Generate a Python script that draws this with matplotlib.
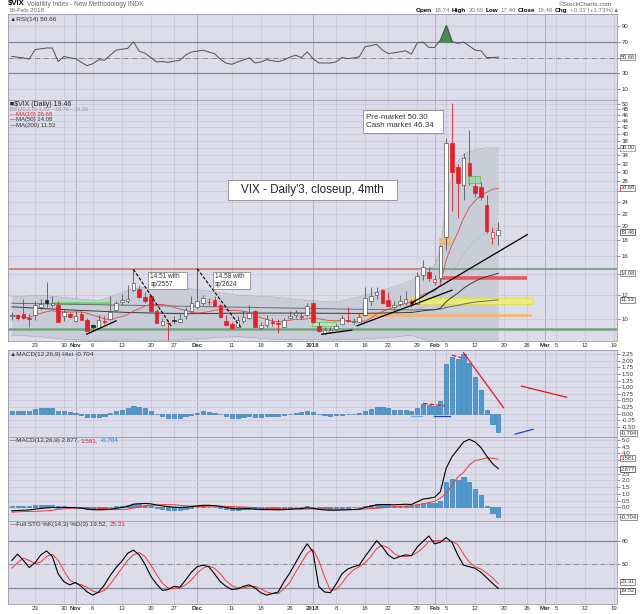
import numpy as np
import pandas as pd
import matplotlib
matplotlib.use('Agg')
import matplotlib.pyplot as plt
from matplotlib.patches import Rectangle
from matplotlib.ticker import NullLocator
from matplotlib.offsetbox import TextArea, HPacker, AnchoredOffsetbox

plt.rcParams['font.family'] = ['Liberation Sans', 'DejaVu Sans']

# ---- $VIX daily, 17-Oct-2017 .. 16-Feb-2018 ----
opens = [10.20, 10.30, 10.40, 10.10, 10.30, 10.90, 11.50, 11.10, 11.10, 10.20, 10.35,
         9.85, 10.40, 9.95, 9.55, 9.35, 9.82, 10.00, 10.70, 11.35, 11.40, 12.40,
         12.50, 11.75, 11.90, 10.60, 9.55, 9.70, 9.95, 9.80, 10.20, 10.60,
         10.90, 11.30, 11.35, 11.50, 11.10, 9.86, 9.60, 9.40, 9.85, 10.10, 10.60,
         9.35, 9.55, 9.78, 9.70, 9.45, 10.10, 10.30, 10.20, 10.30,
         11.30, 9.50, 8.95, 9.10, 9.30, 9.60, 9.95, 9.75, 9.80, 10.30, 11.40,
         11.95, 12.40, 11.50, 10.95, 11.20, 11.30, 11.40, 11.20, 13.90, 14.20,
         13.20, 13.60, 18.44, 37.32, 31.10, 27.30, 32.10, 27.10, 26.80, 23.40, 18.40, 18.74]
highs = [10.55, 10.40, 11.60, 10.40, 11.40, 11.60, 13.20, 11.85, 11.40, 10.80, 10.55,
         10.60, 10.60, 10.05, 9.65, 10.30, 10.20, 11.85, 11.40, 12.10, 12.90, 14.51,
         12.90, 12.20, 12.00, 10.80, 10.10, 9.90, 10.20, 10.40, 10.90, 11.90,
         14.58, 12.00, 11.70, 11.90, 11.20, 10.30, 9.75, 10.20, 10.60, 11.10, 10.70,
         9.80, 10.30, 10.10, 10.00, 10.10, 10.60, 10.70, 10.50, 11.30,
         11.40, 9.80, 9.40, 9.40, 9.60, 10.30, 10.90, 10.10, 10.40, 12.70, 12.70,
         12.70, 12.50, 12.20, 11.40, 12.00, 12.30, 11.60, 14.20, 15.52, 14.80,
         13.90, 17.40, 38.80, 50.30, 31.80, 34.60, 41.06, 29.20, 27.90, 25.30, 19.90, 20.60]
lows = [9.95, 9.95, 9.98, 9.40, 9.95, 10.70, 10.90, 10.95, 9.80, 9.85, 10.05,
        9.80, 9.90, 9.14, 9.20, 9.30, 9.60, 9.90, 10.55, 11.10, 11.30, 12.20,
        11.70, 11.30, 10.60, 9.70, 9.50, 8.56, 9.60, 9.70, 10.00, 10.55,
        10.80, 11.10, 11.10, 11.00, 10.10, 9.50, 9.30, 9.35, 9.70, 10.00, 9.40,
        9.30, 9.45, 9.50, 9.00, 9.40, 10.00, 10.10, 10.00, 10.25,
        9.70, 9.10, 8.92, 9.00, 9.20, 9.55, 9.75, 9.65, 9.75, 10.25, 11.10,
        11.60, 11.20, 11.00, 10.70, 11.00, 11.10, 10.90, 11.15, 13.40, 13.30,
        12.90, 13.20, 16.80, 22.42, 21.25, 24.40, 27.30, 25.00, 24.40, 19.00, 17.50, 17.46]
closes = [10.31, 10.07, 10.05, 9.97, 11.07, 11.16, 11.23, 11.30, 9.80, 10.50, 10.18,
          10.20, 9.93, 9.14, 9.40, 9.89, 9.78, 10.50, 11.29, 11.50, 11.59, 13.13,
          11.76, 11.43, 10.65, 9.73, 9.88, 9.67, 9.87, 10.03, 10.70, 11.28,
          11.43, 11.68, 11.33, 11.02, 10.16, 9.58, 9.34, 9.92, 10.18, 10.49, 9.42,
          9.53, 10.03, 9.72, 9.62, 9.90, 10.25, 10.47, 10.18, 11.04,
          9.77, 9.15, 9.22, 9.22, 9.52, 10.08, 9.82, 9.88, 10.16, 11.66, 11.91,
          12.22, 11.27, 11.03, 11.10, 11.47, 11.58, 11.08, 13.84, 14.79, 13.54,
          13.47, 17.31, 37.32, 29.98, 27.73, 33.46, 29.06, 25.61, 24.97, 19.26, 19.13, 19.46]

# Bollinger band edges, sampled off the chart
bb_at = [0, 5, 9, 15, 21, 25, 30, 35, 39, 45, 51, 56, 60, 65, 69, 72, 73, 74, 75, 76,
         77, 78, 79, 80, 81, 82, 83, 84]
bb_up = [11.80, 11.95, 11.75, 11.45, 12.55, 12.75, 12.60, 12.25, 11.95, 11.80, 11.50,
         11.35, 11.80, 12.55, 13.30, 14.60, 14.90, 16.80, 24.40, 29.40, 32.50, 34.20,
         35.00, 35.40, 35.80, 36.00, 36.00, 36.00]
bb_lo = [8.87, 8.76, 8.60, 8.50, 8.55, 8.50, 8.55, 8.70, 8.76, 8.60, 8.55, 8.55, 8.60,
         8.70, 8.85, 8.50, 8.20, 7.00, 4.0, 3.0, 3.0, 3.0, 3.0, 3.0, 3.0, 3.0, 3.0, 3.52]

ma50_at = [0, 10, 20, 30, 40, 50, 60, 69, 70, 71, 72, 73, 74, 75, 76, 77, 78, 79, 80, 81, 82, 83, 84]
ma50 = [10.95, 10.70, 10.50, 10.40, 10.45, 10.45, 10.42, 10.50, 10.56, 10.63, 10.68, 10.70,
        10.84, 11.38, 11.77, 12.12, 12.58, 12.95, 13.26, 13.55, 13.73, 13.90, 14.08]
ma200_at = [0, 12, 24, 36, 48, 60, 69, 70, 72, 74, 75, 76, 77, 78, 79, 80, 81, 82, 83, 84]
ma200 = [11.25, 11.15, 11.05, 10.95, 10.85, 10.75, 10.70, 10.71, 10.73, 10.76, 10.90, 10.99,
         11.07, 11.18, 11.27, 11.34, 11.40, 11.44, 11.49, 11.53]

rsi = [51.5, 50.5, 49.5, 48, 60, 61, 62, 62, 45, 51.5, 49.6, 48.8, 44, 39.8, 42.3, 47.4, 46.6,
       53, 59.4, 60.5, 61.5, 69.8, 58, 55.5, 50, 44.5, 45, 44, 45.5, 46.6, 53, 57, 58, 59.4,
       57, 55, 48, 43, 41.5, 44.5, 47, 49.6, 43.2, 44.5, 47.4, 46, 44.9, 47, 50.5, 53, 50,
       57.2, 48.7, 43.2, 43.2, 43.2, 44.5, 50, 48.7, 49.5, 50.9, 63.6, 65, 66.6, 59.4, 55, 56,
       57.2, 58.5, 54.3, 68.5, 69.5, 62.8, 62.8, 72, 90.4, 70, 67.9, 69.5, 64.5, 59.4, 58.5,
       50, 50, 50.66]

macd_hist = [0.10, 0.10, 0.10, 0.11, 0.16, 0.20, 0.21, 0.21, 0.11, 0.10, 0.06, 0.01, -0.04,
             -0.11, -0.13, -0.11, -0.08, 0.02, 0.10, 0.14, 0.20, 0.29, 0.24, 0.21, 0.10, -0.01,
             -0.09, -0.15, -0.18, -0.16, -0.10, -0.04, 0.04, 0.09, 0.06, 0.01, -0.01, -0.08,
             -0.15, -0.15, -0.14, -0.09, -0.11, -0.13, -0.10, -0.09, -0.08, -0.05, -0.01, 0.01,
             0.05, 0.09, 0.05, -0.03, -0.06, -0.08, -0.06, -0.04, -0.03, 0.0, 0.01, 0.11, 0.19,
             0.26, 0.24, 0.21, 0.14, 0.14, 0.14, 0.10, 0.21, 0.36, 0.31, 0.30, 0.48, 1.87, 2.14,
             2.06, 2.25, 1.90, 1.37, 0.89, 0.13, -0.40, -0.704]
macd_line = [-0.25, -0.22, -0.20, -0.18, -0.12, -0.07, -0.03, 0.0, -0.02, 0.0, 0.0, -0.02,
             -0.05, -0.12, -0.16, -0.17, -0.16, -0.12, -0.06, 0.0, 0.08, 0.25, 0.28, 0.30, 0.27,
             0.18, 0.12, 0.06, 0.02, 0.0, 0.02, 0.07, 0.12, 0.16, 0.16, 0.13, 0.08, 0.0, -0.08,
             -0.10, -0.10, -0.08, -0.12, -0.15, -0.15, -0.16, -0.17, -0.16, -0.13, -0.10, -0.08,
             -0.02, -0.06, -0.14, -0.18, -0.20, -0.20, -0.18, -0.17, -0.15, -0.12, 0.0, 0.10,
             0.20, 0.22, 0.22, 0.20, 0.22, 0.24, 0.22, 0.42, 0.62, 0.68, 0.76, 1.17, 2.90, 3.76,
             4.30, 4.85, 5.05, 4.85, 4.45, 3.80, 3.25, 2.877]

sto_k = [55, 63, 55, 46, 52, 62, 67, 60, 38, 28, 24, 27, 22, 15, 11, 15, 24, 36, 46, 54, 64,
         68, 62, 50, 35, 25, 17, 18, 22, 21, 30, 40, 47, 49, 47, 38, 28, 22, 18, 19, 22, 24,
         20, 14, 11, 13, 15, 28, 39, 52, 65, 76, 66, 22, 15, 14, 25, 38, 44, 47, 49, 60, 70,
         80, 72, 62, 57, 60, 62, 61, 72, 79, 86, 76, 78, 84, 78, 62, 49, 47, 45, 40, 33, 26, 19.52]
sto_d = [45, 52, 58, 55, 51, 53, 60, 63, 55, 42, 30, 26, 24, 21, 16, 14, 17, 25, 35, 45, 55,
         62, 65, 60, 49, 37, 26, 20, 19, 20, 24, 30, 39, 45, 48, 45, 38, 29, 23, 20, 20, 22,
         22, 19, 15, 13, 13, 19, 27, 40, 52, 64, 69, 55, 34, 17, 18, 26, 36, 43, 47, 52, 60,
         70, 74, 71, 64, 60, 60, 61, 65, 71, 79, 80, 80, 79, 79, 75, 63, 53, 47, 44, 39, 33, 25.31]

holidays = ['2017-11-23', '2017-12-25', '2018-01-01', '2018-01-15', '2018-02-19']

# drawn levels / zones / trendlines on the price panel (index, price)
support_lines = [(14.54, '#76a080', 1.3), (9.28, '#76a080', 1.8)]
trend_solid = [((12.9, 8.92), (18.0, 9.86)), ((53.5, 8.92), (58.7, 9.20)),
               ((59.6, 9.50), (76.0, 12.40)), ((69.0, 11.25), (89.0, 18.8))]
trend_dashed = [((21.0, 14.51), (27.6, 9.44)), ((32.0, 14.58), (39.6, 9.37))]
hist_marks = [((78.0, 2.30), (84.9, 0.226), '#e8141c', '-'),
              ((88.0, 1.04), (95.8, 0.62), '#e8141c', '-'),
              ((76.0, 2.21), (77.7, 2.11), '#e8141c', '--'),
              ((71.0, 0.39), (74.8, 0.29), '#e8141c', '--'),
              ((86.9, -0.77), (90.0, -0.59), '#1e3cd8', '-'),
              ((72.9, -0.10), (75.7, -0.10), '#1e3cd8', '-'),
              ((68.9, -0.075), (70.8, -0.075), '#7aa6e6', '-')]

W, H = 640, 614
BG = '#dcdcea'
GRID = '#c6c6d8'
GRID_M = '#a9a9bd'
RED = '#e0202a'
BLUE = '#4a9bd2'
TXT = '#333333'

n = len(closes)
idx = np.arange(n)
days = pd.bdate_range('2017-10-17', '2018-03-20')
days = days[~days.isin(pd.to_datetime(holidays))]

# weekly / monthly ticks like StockCharts
tick_pos, tick_lab, month_pos = [], [], []
last_month = -10
for i in range(1, len(days)):
    d, p = days[i], days[i - 1]
    if d.month != p.month:
        tick_pos.append(i)
        tick_lab.append('2018' if d.month == 1 else d.strftime('%b'))
        month_pos.append(i)
        last_month = i
    elif d.weekday() < p.weekday() and i - last_month > 1:
        tick_pos.append(i)
        tick_lab.append(str(d.day))

fig = plt.figure(figsize=(W / 100, H / 100), dpi=100)
fig.patch.set_facecolor('white')


def panel(top, bottom):
    ax = fig.add_axes([8 / W, 1 - bottom / H, 609 / W, (bottom - top) / H])
    ax.set_facecolor(BG)
    for s in ax.spines.values():
        s.set_color('#9a9aac')
        s.set_linewidth(0.6)
    ax.yaxis.tick_right()
    ax.tick_params(axis='y', length=2, width=0.4, pad=1.5, labelsize=4.4, colors=TXT)
    ax.tick_params(axis='x', length=0, labelsize=4.4, colors=TXT, pad=1.2)
    ax.set_xlim(-0.66, 104.5)
    for t in tick_pos:
        ax.axvline(t, color=GRID_M if t in month_pos else GRID,
                   lw=0.6 if t in month_pos else 0.5, zorder=0)
    ax.set_xticks(tick_pos)
    ax.set_xticklabels(tick_lab)
    for lab in ax.get_xticklabels():
        if lab.get_text() in ('Nov', 'Dec', '2018', 'Feb', 'Mar'):
            lab.set_fontweight('bold')
    ax.tick_params(labelbottom=False)
    return ax


def yticks(ax, vals, fmt, hidden=()):
    ax.set_yticks(vals)
    ax.set_yticklabels(['' if v in hidden else fmt % v for v in vals])


def hgrid(ax, vals):
    for v in vals:
        ax.axhline(v, color=GRID, lw=0.5, zorder=0)


def tag(ax, val, text, ec, dy=0):
    ax.annotate(text, xy=(1.0, val), xycoords=ax.get_yaxis_transform(),
                xytext=(2.5, dy), textcoords='offset points', fontsize=4.1,
                va='center', ha='left', color=TXT, annotation_clip=False, zorder=20,
                bbox=dict(boxstyle='square,pad=0.1', fc='white', ec=ec, lw=0.5))


def ftext(x, y, s, **kw):
    return fig.text(x / W, 1 - y / H, s, **kw)


def rich(x, y, parts, loc='upper left'):
    kids = [TextArea(s, textprops=dict(color=c, fontsize=fs, fontweight=w))
            for s, c, fs, w in parts]
    pack = HPacker(children=kids, align='baseline', pad=0, sep=1.5)
    ab = AnchoredOffsetbox(loc=loc, child=pack, pad=0, borderpad=0, frameon=False,
                           bbox_to_anchor=(x / W, 1 - y / H), bbox_transform=fig.transFigure)
    fig.add_artist(ab)


def note_box(x0, y0, x1, y1, text, size, center=False):
    fig.add_artist(Rectangle((x0 / W, 1 - y1 / H), (x1 - x0) / W, (y1 - y0) / H,
                             transform=fig.transFigure, fc='white', ec='#8a8a8a',
                             lw=0.6, zorder=30))
    if center:
        ftext((x0 + x1) / 2, (y0 + y1) / 2 + 0.5, text, fontsize=size, ha='center',
              va='center', color='#222222', zorder=31)
    else:
        ftext(x0 + 2.5, (y0 + y1) / 2, text, fontsize=size, ha='left', va='center',
              color='#333333', linespacing=1.15, zorder=31)


# ---------------- RSI ----------------
ar = panel(14, 100)
ar.set_ylim(-3.4, 104.8)
yticks(ar, [10, 30, 50, 70, 90], '%d', hidden=(50,))
hgrid(ar, [10, 90])
ar.axhline(70, color='#85859a', lw=0.9, zorder=1)
ar.axhline(30, color='#85859a', lw=0.9, zorder=1)
ar.axhline(50, color='#7a7a8a', lw=0.6, ls='-.', zorder=1)
rsi_a = np.array(rsi)
ar.fill_between(idx, rsi_a, 70, where=rsi_a > 70, interpolate=True, color='#4b8b57', zorder=2)
ar.plot(idx, rsi_a, color='#505050', lw=0.7, zorder=3)
tag(ar, 50.66, '50.66', '#666666')
ftext(10, 19, '\u25B2RSI(14) 50.66', fontsize=4.6, color=TXT, va='center')

# ---------------- Price ----------------
ax = panel(100, 341)
ax.set_yscale('log')
ax.set_ylim(8.48, 51.5)
yt = list(range(10, 52, 2))
yticks(ax, yt, '%d', hidden=(14, 26, 36))
ax.yaxis.set_minor_locator(NullLocator())
hgrid(ax, yt)
ax.tick_params(labelbottom=True)

cs = pd.Series(closes)
ax.fill_between(bb_at, bb_lo, bb_up, color='#c7cdd7', alpha=0.95, lw=0, zorder=1)
ax.plot(bb_at, bb_up, color='#a4aab6', lw=0.4, zorder=2)
ax.plot(bb_at, bb_lo, color='#a4aab6', lw=0.4, zorder=2)
ax.plot(idx, cs.rolling(20, min_periods=1).mean(), color='#b4b8c4', lw=0.4, zorder=2)

for lvl, col, lw in support_lines:
    ax.axhline(lvl, color=col, lw=lw, zorder=2)
ax.hlines(14.54, -0.66, 71.2, color='#ee7c82', lw=1.1, zorder=2)
ax.hlines(11.25, 7.06, 16.8, color='#55e055', lw=1.8, zorder=3)
ax.hlines(13.62, 74.2, 88.9, color='#f0555e', lw=2.6, zorder=3)
ax.fill_between([68.8, 89.8], 11.16, 11.67, color='#f3ef6c', alpha=0.85, lw=0.6,
                edgecolor='#e2dc3a', zorder=2)
ax.fill_between([59.8, 89.8], 10.17, 10.36, color='#f2b46c', alpha=0.85, lw=0, zorder=2)
ax.fill_between([51.9, 55.9], 9.51, 9.80, color='#b8eea8', alpha=0.7, lw=0.8,
                edgecolor='#55cc55', zorder=3)
ax.fill_between([73.8, 75.85], 17.3, 18.4, color='#f2b46c', alpha=0.75, lw=0, zorder=3)
ax.fill_between([78.8, 80.9], 27.7, 29.2, color='#9ad89a', alpha=0.7, lw=0.6,
                edgecolor='#4caf50', zorder=6)

ax.plot(ma200_at, ma200, color='#6c6c6c', lw=0.7, zorder=3)
ax.plot(ma50_at, ma50, color='#3a3a3a', lw=0.7, zorder=3)
ax.plot(idx, cs.rolling(10, min_periods=1).mean(), color='#e04848', lw=0.6, zorder=3)

for i in range(n):
    o, h, l, c = opens[i], highs[i], lows[i], closes[i]
    prev = closes[i - 1] if i else o
    red = c < prev
    col = RED if red else '#222222'
    hollow = c >= o
    ax.vlines(i, l, h, color=RED if red else '#555555', lw=0.6, zorder=4)
    lo_b, hi_b = min(o, c), max(o, c)
    if hi_b / lo_b < 1.004:
        hi_b = lo_b * 1.004
    ax.bar(i, hi_b - lo_b, bottom=lo_b, width=0.62,
           facecolor='white' if hollow else col,
           edgecolor=RED if red else ('#555555' if hollow else col), lw=0.5, zorder=5)

for (x0, y0), (x1, y1) in trend_solid:
    ax.plot([x0, x1], [y0, y1], color='black', lw=0.9, zorder=7)
for (x0, y0), (x1, y1) in trend_dashed:
    ax.plot([x0, x1], [y0, y1], color='black', lw=0.8, ls=(0, (3, 1.5)), zorder=7)

tag(ax, 36.00, '36.00', '#888888')
tag(ax, 26.68, '26.68', RED)
tag(ax, 19.46, '19.46', '#333333', dy=-1.6)
tag(ax, 14.08, '14.08', '#666666')
tag(ax, 11.53, '11.53', '#666666')

ftext(10, 104, '\u25A0$VIX (Daily) 19.46', fontsize=5.0, color='#222222', va='center')
ftext(10, 109.3, 'BB(20,2.0) 3.52 - 19.76 - 36.00', fontsize=4.1, color='#9a9aa8', va='center')
ftext(10, 114.6, '\u2014MA(10) 26.68', fontsize=4.3, color=RED, va='center')
ftext(10, 120, '\u2014MA(50) 14.08', fontsize=4.3, color='#333333', va='center')
ftext(10, 125.4, '\u2014MA(200) 11.53', fontsize=4.3, color='#333333', va='center')

note_box(148, 272, 186.5, 288.5, "14.51 with\nsp'2557", 4.7)
note_box(212.5, 272, 250, 288.5, "14.58 with\nsp'2624", 4.7)
note_box(228, 180, 397, 200, "VIX - Daily'3, closeup, 4mth", 8.4, center=True)
note_box(363, 110.5, 442.5, 132.5, 'Pre-market 50.30\nCash market 46.34', 5.8)

# ---------------- MACD histogram ----------------
ah = panel(350, 437)
ah.set_ylim(-0.879, 2.402)
ht = [-0.5 + 0.25 * k for k in range(12)]
yticks(ah, ht, '%.2f')
hgrid(ah, ht)
ah.bar(idx, macd_hist, width=0.72, color=BLUE, edgecolor='#2d6c9c', lw=0.4, zorder=3)
for (x0, y0), (x1, y1), col, ls in hist_marks:
    ah.plot([x0, x1], [y0, y1], color=col, lw=0.9, ls=ls, zorder=4)
tag(ah, -0.704, '-0.704', '#666666', dy=-0.5)
ftext(10, 354.5, '\u25B2MACD(12,26,9) Hist -0.704', fontsize=4.6, color=TXT, va='center')

# ---------------- MACD ----------------
am = panel(437, 521)
am.set_ylim(-1.0, 5.22)
mt = [-0.5 + 0.5 * k for k in range(12)]
yticks(am, mt, '%.1f', hidden=(3.0, 3.5, -0.5))
hgrid(am, mt)
signal = np.array(macd_line) - np.array(macd_hist)
am.bar(idx, macd_hist, width=0.72, color=BLUE, edgecolor='#2d6c9c', lw=0.4, zorder=3)
am.plot(idx, signal, color='#e83a3a', lw=0.7, zorder=4)
am.plot(idx, macd_line, color='black', lw=0.8, zorder=5)
tag(am, 3.581, '3.581', RED, dy=0.8)
tag(am, 2.877, '2.877', '#333333', dy=-0.4)
tag(am, -0.704, '-0.704', '#666666')
rich(10, 438, [('\u2014MACD(12,26,9) 2.877,', TXT, 4.5, 'normal'),
               ('3.581,', RED, 4.5, 'normal'),
               ('-0.704', '#2d6cc0', 4.5, 'normal')])

# ---------------- Full stochastics ----------------
ast = panel(521, 604)
ast.set_ylim(-0.3, 105)
yticks(ast, [20, 50, 80], '%d', hidden=(20,))
ast.axhline(80, color='#85859a', lw=0.9, zorder=1)
ast.axhline(20, color='#85859a', lw=0.9, zorder=1)
ast.axhline(50, color='#7a7a8a', lw=0.6, ls='-.', zorder=1)
ast.plot(idx, sto_d, color='#e83a3a', lw=0.7, zorder=3)
ast.plot(idx, sto_k, color='black', lw=0.8, zorder=4)
ast.tick_params(labelbottom=True)
tag(ast, 25.31, '25.31', RED, dy=1.6)
tag(ast, 19.52, '19.52', '#333333', dy=-1.6)
rich(10, 522, [('\u2014Full STO %K(14,3) %D(3) 19.52,', TXT, 4.5, 'normal'),
               ('25.31', RED, 4.5, 'normal')])

# ---------------- header ----------------
rich(8, 0.5, [('$VIX', 'black', 5.6, 'bold'),
              ('Volatility Index - New Methodology INDX', '#666666', 4.7, 'normal')])
ftext(8, 10.5, '16-Feb-2018', fontsize=4.5, color='#666666', va='center')
ftext(612, 4, '\u00A9StockCharts.com', fontsize=4.6, color='#555555', va='center', ha='right')
rich(619, 8, [('Open', 'black', 4.6, 'bold'), ('18.74', '#777777', 4.4, 'normal'),
              ('High', 'black', 4.6, 'bold'), ('20.60', '#777777', 4.4, 'normal'),
              ('Low', 'black', 4.6, 'bold'), ('17.46', '#777777', 4.4, 'normal'),
              ('Close', 'black', 4.6, 'bold'), ('19.46', '#777777', 4.4, 'normal'),
              ('Chg', 'black', 4.6, 'bold'), ('+0.33 (+1.73%)\u25B2', '#777777', 4.4, 'normal')],
     loc='upper right')

fig.savefig('out.png', dpi=100)
